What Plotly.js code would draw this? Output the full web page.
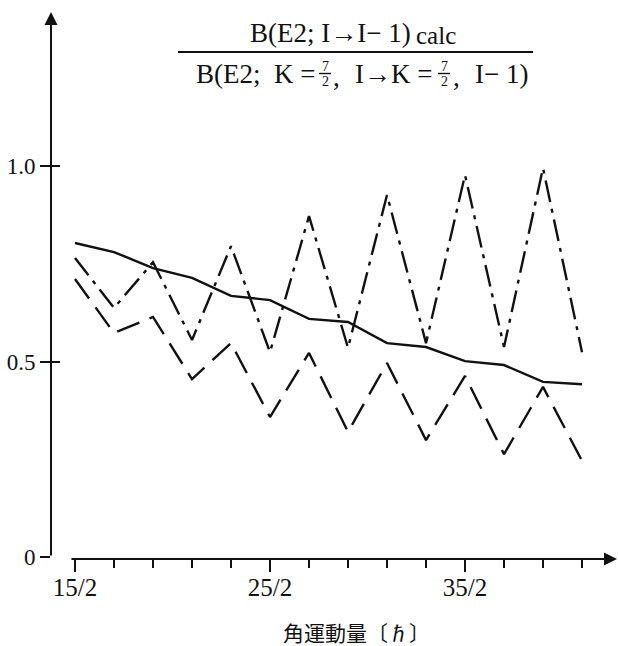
<!DOCTYPE html>
<html>
<head>
<meta charset="utf-8">
<script src="https://cdn.plot.ly/plotly-3.0.1.min.js"></script>
<style>
html,body{margin:0;padding:0;background:#fff;}
#chart{width:618px;height:646px;}
</style>
</head>
<body>
<div id="chart"></div>
<script>
// ---- data ----
var spin = [7.5, 8.5, 9.5, 10.5, 11.5, 12.5, 13.5, 14.5, 15.5, 16.5, 17.5, 18.5, 19.5, 20.5];
var solidVals   = [0.803, 0.780, 0.739, 0.714, 0.668, 0.657, 0.609, 0.601, 0.547, 0.537, 0.501, 0.491, 0.448, 0.442];
var dashDotVals = [0.765, 0.637, 0.754, 0.555, 0.795, 0.524, 0.872, 0.535, 0.926, 0.547, 0.977, 0.537, 0.995, 0.524];
var dashedVals  = [0.711, 0.573, 0.614, 0.455, 0.547, 0.358, 0.522, 0.320, 0.496, 0.299, 0.463, 0.263, 0.435, 0.246];

var xTickVals = [7.5, 12.5, 17.5];
var xTickText = ['15/2', '25/2', '35/2'];
var xMinorVals = [8.5, 9.5, 10.5, 11.5, 13.5, 14.5, 15.5, 16.5, 18.5, 19.5, 20.5];
var yTickVals = [0, 0.5, 1.0];
var yTickText = ['0', '0.5', '1.0'];

// ---- layout helpers ----
var W = 618, H = 646, ML = 51, MR = 1, MT = 12, MB = 87;
var PW = W - ML - MR, PH = H - MT - MB;
function px(x){ return (x - ML) / PW; }
function py(y){ return (H - MB - y) / PH; }
var XR = [6.8846, 21.397], YR = [-0.0051, 1.3939];
var serif = 'Liberation Serif, Times New Roman, serif';
var black = '#111';

var lineW = 2.4;
var traces = [
  {x: spin, y: solidVals, mode: 'lines', line: {color: black, width: lineW}, hoverinfo: 'skip'},
  {x: spin, y: dashDotVals, mode: 'lines', line: {color: black, width: lineW, dash: '22px,7px,4px,7px'}, hoverinfo: 'skip'},
  {x: spin, y: dashedVals, mode: 'lines', line: {color: black, width: lineW, dash: '24px,11px'}, hoverinfo: 'skip'},
  {x: [spin[0]], y: [0.5], yaxis: 'y2', mode: 'markers', marker: {opacity: 0}, hoverinfo: 'skip'}
];

function txt(t, x, y, size, anchor){
  return {text: t, x: px(x), y: py(y), xref: 'paper', yref: 'paper', showarrow: false,
          xanchor: anchor || 'center', yanchor: 'middle', font: {family: serif, size: size, color: black}};
}

var annotations = [
  // axes drawn as arrows
  {x: XR[0], y: YR[1], ax: XR[0], ay: 0, xref: 'x', yref: 'y', axref: 'x', ayref: 'y',
   showarrow: true, arrowhead: 2, arrowsize: 1.3, arrowwidth: 2, arrowcolor: black, text: '', standoff: 0},
  {x: XR[1], y: YR[0], ax: 7.37, ay: YR[0], xref: 'x', yref: 'y', axref: 'x', ayref: 'y',
   showarrow: true, arrowhead: 2, arrowsize: 1.3, arrowwidth: 2, arrowcolor: black, text: '', standoff: 0},
  // title fraction
  txt('B(E2; I→I− 1)', 413, 33, 27, 'right'),
  txt('calc', 414, 36, 25, 'left'),
  txt('B(E2;  K =', 317, 74, 27, 'right'),
  txt('7', 325, 66, 14),
  txt('2', 325, 81, 14),
  txt(',', 336, 77, 27),
  txt('I→K =', 434, 74, 27, 'right'),
  txt('7', 444, 66, 14),
  txt('2', 444, 81, 14),
  txt(',', 456, 77, 27),
  txt('I− 1)', 530, 74, 27, 'right'),
  // x-axis title
  {text: '角運動量〔ℏ〕', x: px(356), y: py(632), xref: 'paper', yref: 'paper', showarrow: false,
   xanchor: 'center', yanchor: 'middle', font: {family: 'Noto Sans CJK JP, sans-serif', size: 21, color: black}}
];

var shapes = [
  {type: 'line', xref: 'paper', yref: 'paper', x0: px(178), x1: px(533), y0: py(52), y1: py(52), line: {color: black, width: 1.8}},
  {type: 'line', xref: 'paper', yref: 'paper', x0: px(319), x1: px(331), y0: py(73.5), y1: py(73.5), line: {color: black, width: 1.4}},
  {type: 'line', xref: 'paper', yref: 'paper', x0: px(438), x1: px(450), y0: py(73.5), y1: py(73.5), line: {color: black, width: 1.4}}
];

var layout = {
  width: W, height: H,
  margin: {l: ML, r: MR, t: MT, b: MB, pad: 0},
  paper_bgcolor: '#fff', plot_bgcolor: '#fff',
  showlegend: false,
  xaxis: {range: XR, showgrid: false, zeroline: false, showline: false,
          tickmode: 'array', tickvals: xTickVals, ticktext: xTickText,
          ticks: 'outside', ticklen: 12, tickwidth: 2, tickcolor: black,
          ticklabelstandoff: -6,
          tickfont: {family: serif, size: 25, color: black},
          minor: {tickmode: 'array', tickvals: xMinorVals, ticks: 'outside', ticklen: 8, tickwidth: 2, tickcolor: black, showgrid: false}},
  yaxis: {range: YR, showgrid: false, zeroline: false, showline: false,
          tickmode: 'array', tickvals: yTickVals, ticktext: yTickText,
          ticks: 'outside', ticklen: 10, tickwidth: 2, tickcolor: black,
          tickfont: {family: serif, size: 23, color: black}},
  yaxis2: {range: YR, overlaying: 'y', side: 'left', anchor: 'x', showgrid: false, zeroline: false, showline: false,
           tickmode: 'array', tickvals: [0.5, 1.0], ticks: 'inside', ticklen: 9, tickwidth: 2, tickcolor: black,
           showticklabels: false},
  annotations: annotations,
  shapes: shapes
};

Plotly.newPlot('chart', traces, layout, {staticPlot: true, displayModeBar: false});
</script>
</body>
</html>
